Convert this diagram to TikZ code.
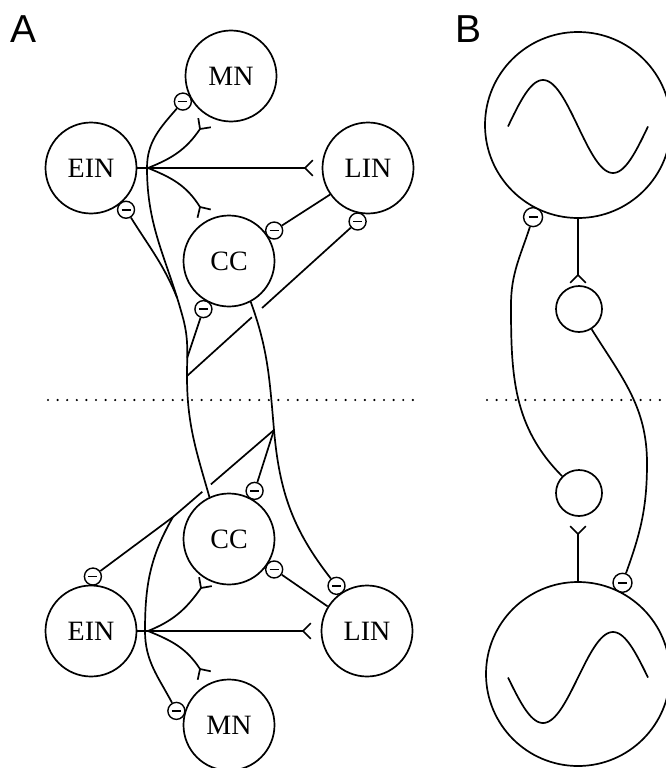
\documentclass[tikz,border=0pt]{standalone}
\usepackage{fontspec}
\setmainfont{Liberation Serif}
\newfontfamily\labelfont{Liberation Sans}
\usetikzlibrary{calc}
\begin{document}
\begin{tikzpicture}[x=1pt,y=1pt,line width=1.7pt,
  neuron/.style={circle, draw, minimum size=91pt, inner sep=0pt, font=\fontsize{28}{30}\selectfont},
  osc/.style={circle, draw, inner sep=0pt},
  inh/.style={circle, draw, line width=1.4pt, minimum size=17pt, inner sep=0pt,
    path picture={\draw[line width=1.6pt] ([xshift=-4.5pt]path picture bounding box.center) -- ([xshift=4.5pt]path picture bounding box.center);}},
  inhB/.style={inh, minimum size=19pt},
  dotline/.style={line width=2.4pt, line cap=round, dash pattern=on 0pt off 9.6pt},
  panellabel/.style={anchor=base west, inner sep=0pt, font=\labelfont\fontsize{39}{40}\selectfont},
  exfork/.pic={\draw (0,0) -- (45:11) (0,0) -- (-45:11);}
]
\clip (0,0) rectangle (666,-768);

% ---------------- Panel A ----------------
\node[panellabel] (labA) at (10,-43) {A};

\node[neuron] (MNt)  at (231,-76)  {MN};
\node[neuron] (EINt) at (91,-168)  {EIN};
\node[neuron] (LINt) at (368,-168) {LIN};
\node[neuron] (CCt)  at (229,-261) {CC};
\node[neuron] (CCb)  at (229,-539) {CC};
\node[neuron] (EINb) at (91,-631)  {EIN};
\node[neuron] (LINb) at (367,-631) {LIN};
\node[neuron] (MNb)  at (229,-725) {MN};

% inhibitory synapses
\node[inh] (mMNt)  at ($(MNt)+(208:54.5)$)  {};
\node[inh] (mEINt) at ($(EINt)+(-50:54.5)$) {};
\node[inh] (mCCtL) at ($(CCt)+(34:54.5)$)   {};
\node[inh] (mLINt) at ($(LINt)+(259:54.5)$) {};
\node[inh] (mCCt)  at ($(CCt)+(242:54.5)$)  {};
\node[inh] (mCCb)  at ($(CCb)+(62:54.5)$)   {};
\node[inh] (mEINb) at ($(EINb)+(88:54.5)$)  {};
\node[inh] (mCCbL) at ($(CCb)+(-34:54.5)$)  {};
\node[inh] (mLINb) at ($(LINb)+(124:54.5)$) {};
\node[inh] (mMNb)  at ($(MNb)+(165:54.5)$)  {};

% branch points and excitatory fork tips
\coordinate (Pt) at (148,-168);
\coordinate (tLIN) at (305,-168);
\coordinate (tMN) at (200,-129);
\coordinate (tCC) at (200,-207);
\coordinate (Pb) at (148,-631);
\coordinate (bLIN) at (303,-631);
\coordinate (bCC) at (201,-588);
\coordinate (bMN) at (200,-669);

% EIN top excitation
\draw (EINt.east) -- (Pt) -- (tLIN);
\draw (Pt) to[out=22,in=236] (tMN);
\draw (Pt) to[out=-22,in=122] (tCC);
\pic at (tLIN) {exfork};
\pic[rotate=54] at (tMN) {exfork};
\pic[rotate=-58] at (tCC) {exfork};

% EIN bottom excitation
\draw (EINb.east) -- (Pb) -- (bLIN);
\draw (Pb) to[out=22,in=235] (bCC);
\draw (Pb) to[out=-22,in=123] (bMN);
\pic at (bLIN) {exfork};
\pic[rotate=55] at (bCC) {exfork};
\pic[rotate=-57] at (bMN) {exfork};

% LIN -> CC inhibition
\draw (LINt.215) -- (mCCtL);
\draw (LINb.148) -- (mCCbL);

% bottom CC axon running up the left side
\coordinate (J1) at (187,-376);
\coordinate (J3) at (183,-318);
\coordinate (Vt) at (147,-168);
\draw (CCb.115) to[out=106,in=-90] (J1)
      to[out=90,in=-75] coordinate[pos=0.3] (J2) (J3)
      to[out=105,in=-90] coordinate[pos=0.12] (J4) (Vt)
      to[out=90,in=229] (mMNt);
\draw (mEINt) to[out=-58,in=112] (J4);
\draw (mCCt) -- (J2);
\draw (mLINt) -- ($(mLINt)!0.56!(J1)$);
\draw ($(mLINt)!0.62!(J1)$) -- (J1);

% top CC axon running down the right side
\coordinate (K1) at (274,-430);
\coordinate (K2) at (173,-517);
\coordinate (Vb) at (145,-631);
\draw (CCt.-62) to[out=-70,in=95] (K1) to[out=-85,in=128] (mLINb);
\draw (mCCb) -- (K1);
\draw (K1) -- ($(K1)!0.625!(K2)$);
\draw ($(K1)!0.71!(K2)$) -- (K2) -- (mEINb);
\draw (K2) to[out=240,in=90] (Vb) to[out=-90,in=118] (mMNb);

% midline
\coordinate (dA1) at (48,-400);
\coordinate (dA2) at (418,-400);
\draw[dotline] (dA1) -- (dA2);

% ---------------- Panel B ----------------
\node[panellabel] (labB) at (455,-43) {B};

\node[osc, minimum size=186pt] (OTt) at (578,-125) {};
\node[osc, minimum size=184pt] (OTb) at (578,-674) {};
\node[osc, minimum size=46pt] (ST) at (579,-309) {};
\node[osc, minimum size=46pt] (SB) at (579,-493) {};
\node[inhB] (mBt) at ($(OTt)+(244:102.5)$) {};
\node[inhB] (mBb) at ($(OTb)+(64:101.5)$) {};

\draw plot[domain=0:360, samples=73, smooth, variable=\t] ({508+0.38889*\t}, {-126.5+46.5*sin(\t)});
\draw plot[domain=0:360, samples=73, smooth, variable=\t] ({508+0.38889*\t}, {-677.5-45.5*sin(\t)});

\coordinate (fT) at (578,-275);
\coordinate (fB) at (578,-534);
\draw (OTt.south) -- (fT);
\pic[rotate=-90] at (fT) {exfork};
\draw (fB) -- (OTb.north);
\pic[rotate=90] at (fB) {exfork};

\coordinate (BL) at (511,-305);
\coordinate (BR) at (647,-463);
\draw (mBt) to[out=252,in=90] (BL) to[out=-90,in=135] (SB);
\draw (ST) to[out=-58,in=90] (BR) to[out=-90,in=70] (mBb);

\coordinate (dB1) at (487,-400);
\coordinate (dB2) at (666,-400);
\draw[dotline] (dB1) -- (dB2);
\end{tikzpicture}
\end{document}
